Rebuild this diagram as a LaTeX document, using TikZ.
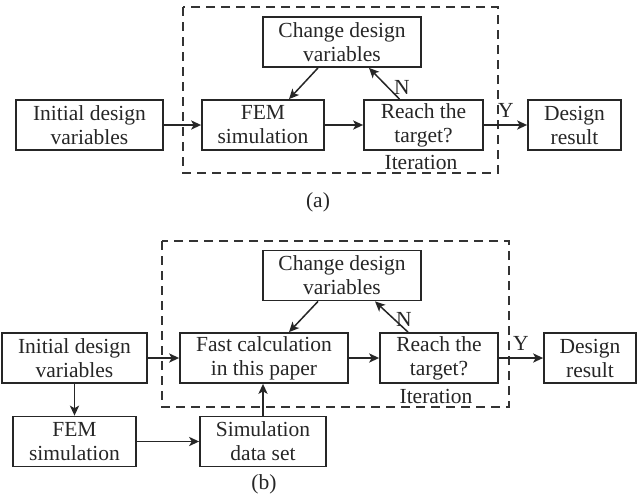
\documentclass[tikz,border=0pt]{standalone}
\usepackage{fontspec}
\setmainfont{Liberation Serif}
\usetikzlibrary{arrows.meta}

\begin{document}
\begin{tikzpicture}[
  x=0.5pt, y=-0.5pt,
  every node/.style={font=\fontsize{10.75}{12}\selectfont, text=black!85, inner sep=0pt, align=center},
  blk/.style={draw=black!85, line width=0.9pt, rectangle, minimum height=25pt},
  flow/.style={draw=black!85, line width=0.75pt, -{Stealth[length=5pt,width=4.6pt,inset=1.3pt]}},
  group/.style={draw=black!80, line width=0.6pt, dash pattern=on 4.5pt off 3pt},
]
\useasboundingbox (0,0) rectangle (642,499);

% ---------- (a) conventional loop ----------
\draw[group] (183,7) rectangle (498,173);
\node[blk, minimum width=73.5pt] (initA)   at (89.5,125) {Initial design\\variables};
\node[blk, minimum width=61pt]   (femA)    at (263,125)  {FEM\\simulation};
\node[blk, minimum width=59.5pt] (reachA)  at (423.5,125) {Reach the\\target?};
\node[blk, minimum width=46.5pt] (designA) at (574.5,125) {Design\\result};
\node[blk, minimum width=79pt]   (changeA) at (342,42)   {Change design\\variables};
\node (iterA) at (421,162) {Iteration};
\node (yA) at (506,110) {Y};
\node (nA) at (402,87) {N};
\node (capA) at (318,202) {(a)};

\draw[flow] (initA) -- (femA);
\draw[flow] (femA) -- (reachA);
\draw[flow] (reachA) -- (designA);
\draw[flow] ([xshift=-12pt]changeA.south) -- ([xshift=13pt]femA.north);
\draw[flow] ([xshift=-12pt]reachA.north) -- ([xshift=13.5pt]changeA.south);

% ---------- (b) loop with fast calculation ----------
\draw[group] (162,241) rectangle (509,407);
\node[blk, minimum width=72.5pt] (initB)   at (74.5,358) {Initial design\\variables};
\node[blk, minimum width=84pt]   (fastB)   at (264,358)  {Fast calculation\\in this paper};
\node[blk, minimum width=59pt]   (reachB)  at (439,358)  {Reach the\\target?};
\node[blk, minimum width=46pt]   (designB) at (590,358)  {Design\\result};
\node[blk, minimum width=79pt]   (changeB) at (342,275.5) {Change design\\variables};
\node[blk, minimum width=61.5pt] (femB)    at (74.5,441.5) {FEM\\simulation};
\node[blk, minimum width=63pt]   (simB)    at (263,441.5) {Simulation\\data set};
\node (iterB) at (436,396) {Iteration};
\node (yB) at (521,343) {Y};
\node (nB) at (404,319) {N};
\node (capB) at (264,484) {(b)};

\draw[flow] (initB) -- (fastB);
\draw[flow] (fastB) -- (reachB);
\draw[flow] (reachB) -- (designB);
\draw[flow] ([xshift=-12pt]changeB.south) -- ([xshift=12.5pt]fastB.north);
\draw[flow] ([xshift=-15.5pt]reachB.north) -- ([xshift=16.5pt]changeB.south);
\draw[flow] (initB.south) -- (femB.north);
\draw[flow] (femB) -- (simB);
\draw[flow] (simB.north) -- (simB.north |- fastB.south);
\end{tikzpicture}
\end{document}
